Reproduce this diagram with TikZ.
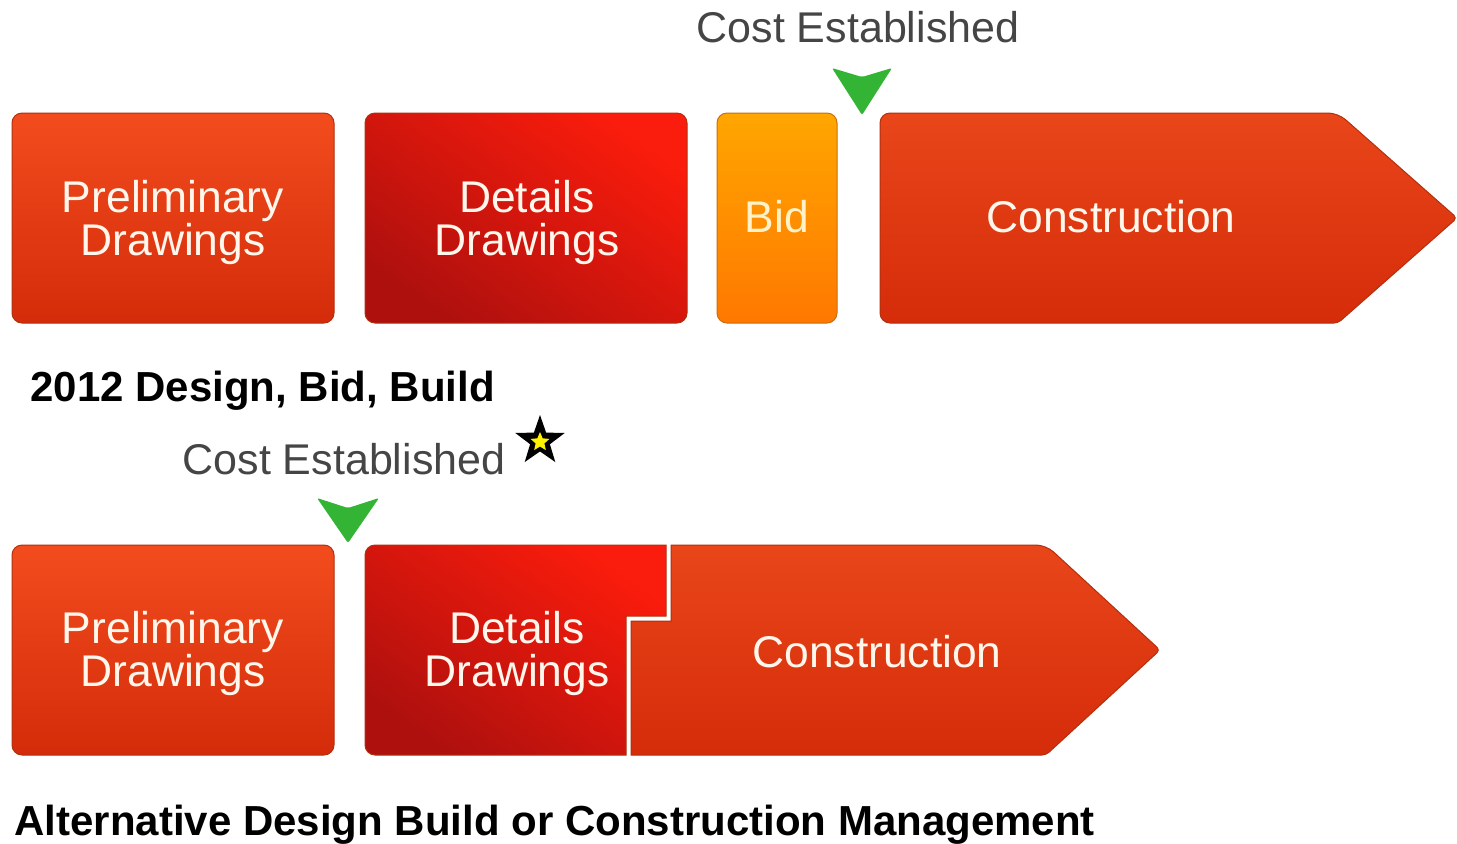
\documentclass[tikz,border=0pt]{standalone}
\usepackage{fontspec}
\setmainfont{Liberation Sans}
\usetikzlibrary{shapes.geometric}

\definecolor{prelimtop}{HTML}{F24C1E}
\definecolor{prelimbot}{HTML}{D42C0A}
\definecolor{phaseline}{HTML}{B2300E}
\definecolor{detailhi}{HTML}{FA1C0C}
\definecolor{detaillo}{HTML}{AE100E}
\definecolor{bidtop}{HTML}{FFA600}
\definecolor{bidbot}{HTML}{FF7800}
\definecolor{bidline}{HTML}{C8700E}
\definecolor{bidtext}{HTML}{FFF2C8}
\definecolor{buildtop}{HTML}{E9461A}
\definecolor{buildbot}{HTML}{D52C0A}
\definecolor{markgreen}{HTML}{34B434}
\definecolor{costgray}{HTML}{454545}
\definecolor{labelwhite}{HTML}{FFF6EC}

\tikzset{
  % coloured phase blocks
  phasebox/.style={rounded corners=5pt, minimum width=161pt, minimum height=105pt,
    inner sep=0pt, draw=phaseline, line width=0.5pt},
  prelimfill/.style={top color=prelimtop, bottom color=prelimbot},
  detailfill/.style={top color=detailhi, bottom color=detaillo, shading angle=-35},
  bidfill/.style={top color=bidtop, bottom color=bidbot, draw=bidline},
  buildfill/.style={top color=buildtop, bottom color=buildbot, draw=phaseline, line width=0.5pt},
  phaselabel/.style={align=center, text=labelwhite, font=\fontsize{22.2}{21.5}\selectfont},
  % labels above and below the rows
  costlabel/.style={text=costgray, font=\fontsize{21.5}{21.5}\selectfont, anchor=base},
  titlelabel/.style={font=\fontsize{21}{21}\selectfont\bfseries, anchor=base west, inner sep=0pt},
  marker/.style={fill=markgreen, rounded corners=1pt},
}

\begin{document}
\begin{tikzpicture}[x=0.5pt, y=-0.5pt]
\useasboundingbox[fill=white] (0,0) rectangle (1457,843);

%% Design, Bid, Build
\node[phasebox, prelimfill] (prelimA) at (173,218) {};
\node[phaselabel] (prelimAtext) at (173,223) {Preliminary\\Drawings};
\node[phasebox, detailfill] (detailA) at (526,218) {};
\node[phaselabel] (detailAtext) at (527,223) {Details\\Drawings};
\node[phasebox, bidfill, minimum width=60pt] (bidA) at (777,218) {};
\node[phaselabel, text=bidtext] (bidAtext) at (777,217) {Bid};

\shade[buildfill, rounded corners=5pt] (880,113) -- (1338,113)
  [rounded corners=2pt] -- (1457,218) -- (1338,323)
  [rounded corners=5pt] -- (880,323) -- cycle;
\node[phaselabel] (buildA) at (1111,217) {Construction};

\coordinate (costtipA) at (862,115);
\fill[marker] (costtipA) -- ++(-30,-47) -- ++(30,9) -- ++(30,-9) -- cycle;
\node[costlabel] (costA) at (858,42) {Cost Established};

\node[titlelabel] (titleA) at (30,401) {2012 Design, Bid, Build};

%% Design Build / CM
\node[phasebox, prelimfill] (prelimB) at (173,650) {};
\node[phaselabel] (prelimBtext) at (173,654) {Preliminary\\Drawings};

% details block with a step cut out of its lower right
\shade[detailfill, draw=phaseline, line width=0.5pt] [rounded corners=5pt] (365,650) -- (365,545)
  [sharp corners] -- (666,545) -- (666,616) -- (626,616) -- (626,755)
  [rounded corners=5pt] -- (365,755) -- cycle;
\node[phaselabel] (detailB) at (517,654) {Details\\Drawings};

\shade[buildfill] (671,545) [rounded corners=5pt] -- (1046,545)
  [rounded corners=2pt] -- (1160,650) -- (1046,755)
  [sharp corners] -- (631,755) -- (631,621) -- (671,621) -- cycle;
\node[phaselabel] (buildB) at (877,652) {Construction};

\coordinate (costtipB) at (348,543);
\fill[marker] (costtipB) -- ++(-31,-45) -- ++(31,10) -- ++(31,-10) -- cycle;
\node[costlabel] (costB) at (344,474) {Cost Established};

\node[shape=star, star points=5, star point ratio=2.5, fill=black, inner sep=0pt,
  minimum size=26pt] (flag) at (540,441) {};
\node[shape=star, star points=5, star point ratio=2.2, fill=yellow, inner sep=0pt,
  minimum size=10pt] (flagdot) at (540,442) {};

\node[titlelabel] (titleB) at (14,835) {Alternative Design Build or Construction Management};
\end{tikzpicture}
\end{document}
